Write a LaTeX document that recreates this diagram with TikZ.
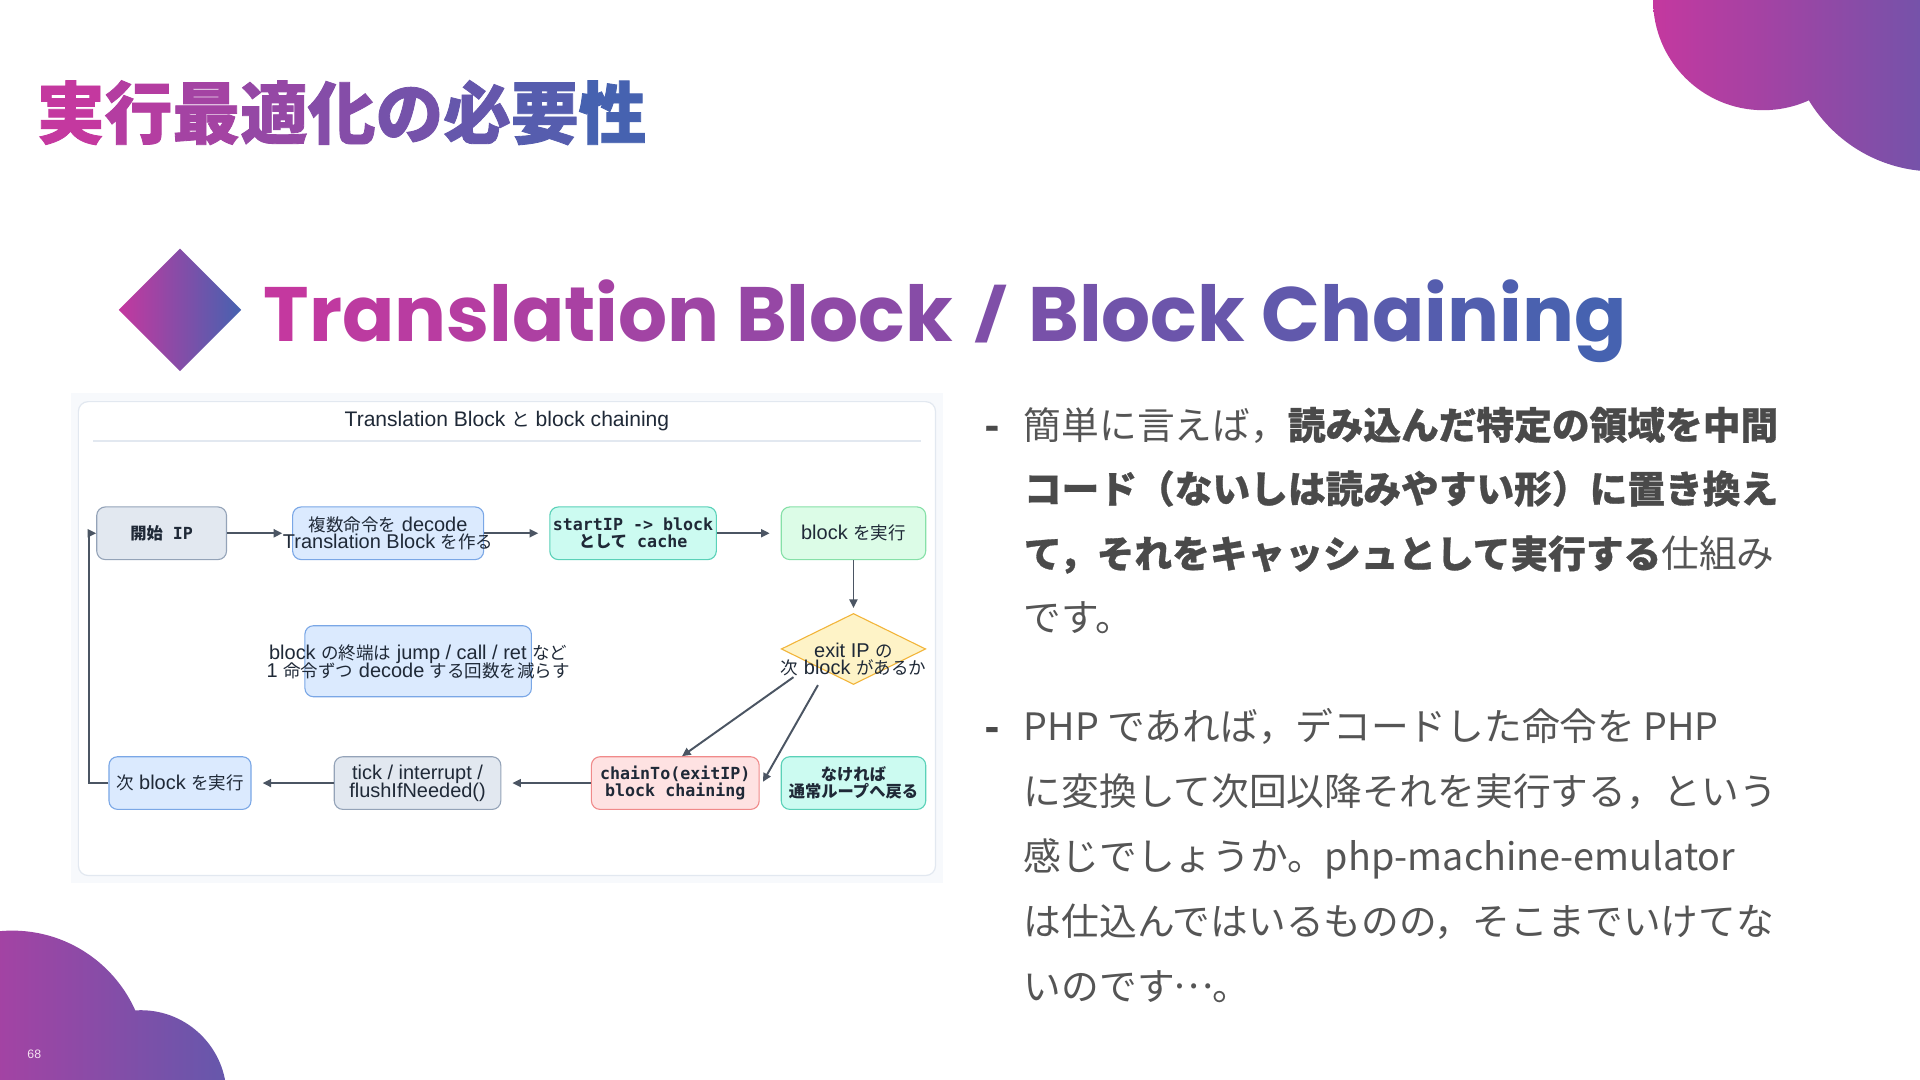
\documentclass[tikz,border=0pt]{standalone}
\usepackage{fontspec}
\usepackage{graphicx}
\usetikzlibrary{shapes.geometric,arrows.meta,calc}
\newfontfamily\jp{Noto Sans CJK JP}
\newfontfamily\lib{Liberation Sans}
\newfontfamily\dmono{DejaVu Sans Mono}
\newfontfamily\pop{Poppins}
\definecolor{gA}{HTML}{C4389F}
\definecolor{gB}{HTML}{4662B0}
\definecolor{txt}{HTML}{555555}
\definecolor{txtb}{HTML}{4A4A4A}
\definecolor{ink}{HTML}{1F2937}
\definecolor{arrc}{HTML}{4B5563}
\definecolor{panelbg}{HTML}{F7F9FC}
\definecolor{cardline}{HTML}{E2E8F0}
\definecolor{grayF}{HTML}{E2E8F0}\definecolor{grayD}{HTML}{94A3B8}
\definecolor{blueF}{HTML}{DBEAFE}\definecolor{blueD}{HTML}{7AA7E6}
\definecolor{tealF}{HTML}{CCFBF1}\definecolor{tealD}{HTML}{5AD1B8}
\definecolor{greenF}{HTML}{DCFCE7}\definecolor{greenD}{HTML}{86E0A8}
\definecolor{yelF}{HTML}{FEF3C7}\definecolor{yelD}{HTML}{F2B53A}
\definecolor{redF}{HTML}{FEE2E2}\definecolor{redD}{HTML}{F08A8A}
\newcount\gi \newcount\gn
\def\gradtext#1#2{\global\gn=#1\relax\global\gi=0\relax\gradloop#2\relax}
\def\gradloop#1{\ifx#1\relax\else\pgfmathsetmacro\gpct{100*\gi/(\gn-1)}\textcolor{gB!\gpct!gA}{#1}\global\advance\gi by 1\relax\expandafter\gradloop\fi}
\newcommand\J[1]{{\jp\fontsize{14.3}{14.5}\selectfont #1}}
\newcommand\JT[1]{{\jp\fontsize{15.2}{16}\selectfont #1}}
\newcommand\JB[1]{{\jp\bfseries\fontsize{13.3}{14}\selectfont #1}}
\newcommand\HB[1]{{\bfseries\addfontfeatures{FakeBold=0.8}\color{txtb}#1}}
\newcommand\sansf{\lib\fontsize{16.3}{14.5}\selectfont\lineskiplimit=-50pt}
\newcommand\monof{\dmono\bfseries\fontsize{13.6}{14}\selectfont\lineskiplimit=-50pt}
\newcommand\subslash{\hspace{0.06em}\raisebox{0.1em}{\scalebox{0.95}[0.66]{/}}\hspace{0.06em}}
\begin{document}
\begin{tikzpicture}[x=1pt,y=-1pt,
  box/.style={draw, rounded corners=7pt, line width=0.9pt, minimum height=43pt, inner sep=0pt, text=ink, align=center},
  gbox/.style={box, fill=grayF, draw=grayD},
  bbox/.style={box, fill=blueF, draw=blueD},
  tbox/.style={box, fill=tealF, draw=tealD},
  grbox/.style={box, fill=greenF, draw=greenD},
  rbox/.style={box, fill=redF, draw=redD},
  dia/.style={diamond, draw=yelD, fill=yelF, line width=0.9pt, minimum width=118pt, minimum height=58pt, inner sep=0pt},
  lbl/.style={inner sep=0pt, text=ink, align=center, font=\sansf},
  arr/.style={draw=arrc, line width=1.6pt, -{Triangle[length=7pt,width=6.5pt]}},
  body/.style={anchor=base west, inner sep=0pt, text=txt, font=\jp\fontsize{30.8}{36}\selectfont}
]
\useasboundingbox (0,0) rectangle (1568,882);
\fill[white] (0,0) rectangle (1568,882);
% decorative blobs
\shade[left color=gA, right color=gB] (1440,0) circle (90) (1580,20) circle (120);
\shade[left color=gA, right color=gB!75!gA] (10,870) circle (110) (115,895) circle (70);
\node[font=\lib\fontsize{10}{10}\selectfont, text=white!85!gA] (pg) at (28,861) {68};
% title
\node[anchor=west, inner sep=0pt, font=\jp\bfseries\addfontfeatures{FakeBold=1.2}\fontsize{55.3}{60}\selectfont] (title) at (30,92) {\gradtext{9}{実行最適化の必要性}};
% subtitle
\shade[left color=gA, right color=gB] (97,253) -- (147,203) -- (197,253) -- (147,303) -- cycle;
\node[anchor=base west, inner sep=0pt] (sub) at (215,279) {\resizebox{1113pt}{!}{\pop\bfseries\fontsize{60}{60}\selectfont\gradtext{34}{Translation~Block~\subslash~Block~Chaining}}};
% diagram panel
\fill[panelbg] (58,321) rectangle (770,721);
\draw[cardline, fill=white, line width=1pt, rounded corners=8pt] (64,328) rectangle (764,715);
\node[inner sep=0pt, text=ink, font=\lib\fontsize{17.2}{18}\selectfont] (dtitle) at (414,344) {Translation Block \JT{と} block chaining};
\draw[cardline, line width=1.2pt] (76,360) -- (752,360);
% nodes
\node[gbox, minimum width=106pt, font=\monof] (start) at (132,435.5) {\JB{開始} IP};
\node[bbox, minimum width=156pt] (decode) at (317,435.5) {};
\node[lbl] (decodet) at (317,435.5) {\J{複数命令を} decode\\Translation Block \J{を作る}};
\node[tbox, minimum width=136pt, font=\monof] (cache) at (517,435.5) {startIP -> block\\\JB{として} cache};
\node[grbox, minimum width=118pt, font=\sansf] (exec) at (697,435.5) {block \J{を実行}};
\node[dia] (cond) at (697,530) {};
\node[lbl] (condt) at (697,538.5) {exit IP \J{の}\\\J{次} block \J{があるか}};
\node[bbox, minimum width=185pt, minimum height=58pt] (note) at (341.5,540) {};
\node[lbl] (notet) at (341.5,540.5) {block \J{の終端は} jump / call / ret \J{など}\\1 \J{命令ずつ} decode \J{する回数を減らす}};
\node[rbox, minimum width=137pt, font=\monof] (chain) at (551.5,639.5) {chainTo(exitIP)\\block chaining};
\node[tbox, minimum width=118pt, font=\monof] (back) at (697,639.5) {\JB{なければ}\\\JB{通常ループへ戻る}};
\node[gbox, minimum width=136pt, font=\sansf] (tick) at (341,639.5) {tick / interrupt /\\flushIfNeeded()};
\node[bbox, minimum width=116pt, font=\sansf] (next) at (147,639.5) {\J{次} block \J{を実行}};
% connectors
\coordinate (ca) at (648,553);
\coordinate (cb) at (668,559.5);
\draw[arr] (start.east) -- ($(decode.west)+(-8,0)$);
\draw[arr] (decode.east) -- ($(cache.west)+(-9,0)$);
\draw[arr] (cache.east) -- ($(exec.west)+(-9,0)$);
\draw[arr] (exec.south) -- ($(cond.north)+(0,-4)$);
\draw[arr] (ca) -- ($(chain.north)+(5.5,0)$);
\draw[arr] (cb) -- ($(back.west)+(-14.5,-1)$);
\draw[arr] (chain.west) -- ($(tick.east)+(9,0)$);
\draw[arr] (tick.west) -- ($(next.east)+(9,0)$);
\draw[arr] (next.west) -- ++(-15.5,0) |- (start.west);
% body text
\node[body] (d1) at (804,358.7) {\HB{-}};
\node[body] (l1) at (836,358.7) {簡単に言えば，\HB{読み込んだ特定の領域を中間}};
\node[body] (l2) at (836,410.7) {\HB{コード（ないしは読みやすい形）に置き換え}};
\node[body] (l3) at (836,463.7) {\HB{て，それをキャッシュとして実行する}仕組み};
\node[body] (l4) at (836,515.7) {です。};
\node[body] (d2) at (804,604.7) {\HB{-}};
\node[body] (m1) at (836,604.7) {PHP であれば，デコードした命令を PHP};
\node[body] (m2) at (836,657.7) {に変換して次回以降それを実行する，という};
\node[body] (m3) at (836,710.7) {感じでしょうか。php-machine-emulator};
\node[body] (m4) at (836,763.7) {は仕込んではいるものの，そこまでいけてな};
\node[body] (m5) at (836,816.7) {いのです\raisebox{0.3em}{\makebox[1em]{…}}。};
\end{tikzpicture}
\end{document}
